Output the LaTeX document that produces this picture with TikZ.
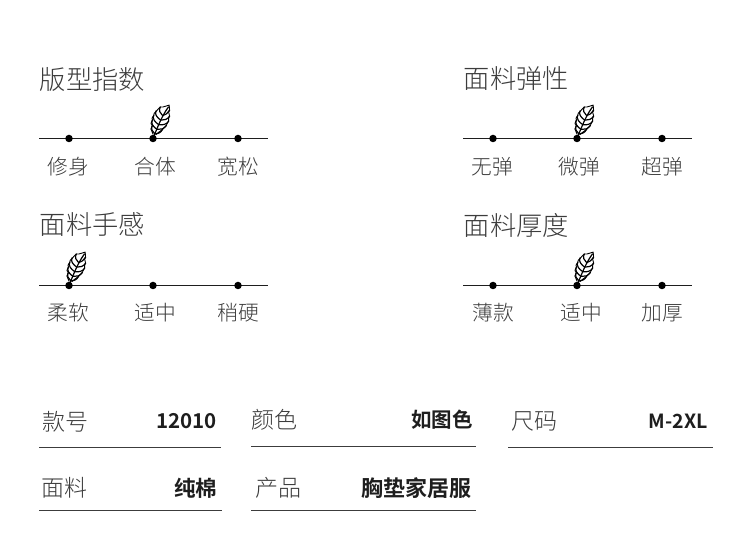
\documentclass[tikz,border=0pt]{standalone}
\usepackage{fontspec}
\setmainfont{Noto Sans CJK SC}[UprightFont={* Light},BoldFont={* Bold}]
\usetikzlibrary{positioning}
\definecolor{ink}{HTML}{1E1E1E}
\definecolor{soft}{HTML}{3C3C3C}
\tikzset{
  x=1pt,y=-1pt,
  titletext/.style={anchor=west,inner sep=0pt,text=soft,font=\fontsize{26.3}{26.3}\selectfont},
  scaletext/.style={anchor=center,inner sep=0pt,text=soft,font=\fontsize{20.7}{20.7}\selectfont},
  keytext/.style={anchor=west,inner sep=0pt,text=soft,font=\fontsize{23}{23}\selectfont},
  valtext/.style={anchor=east,inner sep=0pt,text=ink,font=\bfseries\fontsize{#1}{#1}\selectfont},
  scaleline/.style={draw=ink,line width=1.3pt},
  specline/.style={draw=soft,line width=1pt},
  dot/.style={circle,fill=black,inner sep=0pt,minimum size=7.5pt},
  pics/feather/.style={code={
    \fill[white] (-1,-4) -- (-8,-13) -- (-8.5,-24) -- (-5,-32) -- (2.5,-37) -- (7,-29) -- (7.5,-16) -- (1,-4) -- cycle;
    \draw[black,line width=1.2pt,line cap=round] (0,0) -- (0,-5) .. controls (0,-15) and (0,-25) .. (2.5,-35);
    \foreach \yy/\w in {5/6,10/8,15/8.5,20/8,25/5.5}{
      \draw[black,line width=1.2pt,line cap=round] (0,-\yy) .. controls (-\w*.5,-\yy-1) and (-\w,-\yy-3) .. (-\w+.5,-\yy-7);
    }
    \foreach \yy/\w in {5/5,10/7,15/7.5,20/6.5,25/4}{
      \draw[black,line width=1.2pt,line cap=round] (0.5,-\yy) .. controls (\w*.5,-\yy-1) and (\w,-\yy-3) .. (\w+.5,-\yy-7);
    }
    \draw[black,line width=.9pt,line join=round,line cap=round]
      (-1.5,-4) -- (-5.5,-8) -- (-5.5,-12) -- (-7.5,-13) -- (-7.5,-17) -- (-8.5,-18.5) -- (-8,-22) -- (-8.3,-24) -- (-7,-27) -- (-6.5,-28.5) -- (-5,-32) -- (-2.5,-33) -- (2.5,-37)
      -- (5,-32) -- (4.5,-30.5) -- (7,-27) -- (7,-24.5) -- (8,-22) -- (7.5,-19.5) -- (7.5,-17) -- (6,-14) -- (5.5,-12) -- (3,-8) -- (1.5,-5);
  }}
}
\begin{document}
\begin{tikzpicture}
\useasboundingbox (0,0) rectangle (750,537);
\fill[white] (0,0) rectangle (750,537);

% Scale 1
\node[titletext] (t1) at (39.5,79) {版型指数};
\coordinate (a1s) at (39,138.5); \coordinate (a1e) at (268,138.5);
\draw[scaleline] (a1s) -- (a1e);
\node[dot] (a1a) at (69,138.5) {}; \node[dot] (a1b) at (153,138.5) {}; \node[dot] (a1c) at (238,138.5) {};
\pic[rotate=-22] at (a1b) {feather};
\node[scaletext] (l1a) at (68,167) {修身};
\node[scaletext] (l1b) at (155,167) {合体};
\node[scaletext] (l1c) at (238,167) {宽松};

% Scale 2
\node[titletext] (t2) at (463.5,79) {面料弹性};
\coordinate (a2s) at (463,138.5); \coordinate (a2e) at (692,138.5);
\draw[scaleline] (a2s) -- (a2e);
\node[dot] (a2a) at (493,138.5) {}; \node[dot] (a2b) at (577,138.5) {}; \node[dot] (a2c) at (662,138.5) {};
\pic[rotate=-22] at (a2b) {feather};
\node[scaletext] (l2a) at (492.5,167) {无弹};
\node[scaletext] (l2b) at (579,167) {微弹};
\node[scaletext] (l2c) at (662.5,167) {超弹};

% Scale 3
\node[titletext] (t3) at (39.5,225) {面料手感};
\coordinate (a3s) at (39,285.5); \coordinate (a3e) at (268,285.5);
\draw[scaleline] (a3s) -- (a3e);
\node[dot] (a3a) at (69,285.5) {}; \node[dot] (a3b) at (153,285.5) {}; \node[dot] (a3c) at (238,285.5) {};
\pic[rotate=-22] at (a3a) {feather};
\node[scaletext] (l3a) at (68,313) {柔软};
\node[scaletext] (l3b) at (155,313) {适中};
\node[scaletext] (l3c) at (238,313) {稍硬};

% Scale 4
\node[titletext] (t4) at (463.5,225) {面料厚度};
\coordinate (a4s) at (463,285.5); \coordinate (a4e) at (692,285.5);
\draw[scaleline] (a4s) -- (a4e);
\node[dot] (a4a) at (493,285.5) {}; \node[dot] (a4b) at (577,285.5) {}; \node[dot] (a4c) at (662,285.5) {};
\pic[rotate=-22] at (a4b) {feather};
\node[scaletext] (l4a) at (493,313) {薄款};
\node[scaletext] (l4b) at (581,313) {适中};
\node[scaletext] (l4c) at (662,313) {加厚};

% Specs
\node[keytext] (k1) at (42,421.5) {款号};
\node[valtext=20.5] (v1) at (217,421.5) {12010};
\coordinate (s1s) at (39,447); \coordinate (s1e) at (221,447);
\draw[specline] (s1s) -- (s1e);

\node[keytext] (k2) at (251,420) {颜色};
\node[valtext=20.5] (v2) at (473,419.5) {如图色};
\coordinate (s2s) at (251,446); \coordinate (s2e) at (476,446);
\draw[specline] (s2s) -- (s2e);

\node[keytext] (k3) at (511,421.5) {尺码};
\node[valtext=19.5] (v3) at (708,421.5) {M-2XL};
\coordinate (s3s) at (508,447); \coordinate (s3e) at (713,447);
\draw[specline] (s3s) -- (s3e);

\node[keytext] (k4) at (41,488) {面料};
\node[valtext=21.5] (v4) at (217.5,488.5) {纯棉};
\coordinate (s4s) at (39,510); \coordinate (s4e) at (222,510);
\draw[specline] (s4s) -- (s4e);

\node[keytext] (k5) at (255,488) {产品};
\node[valtext=22] (v5) at (472,488.5) {胸垫家居服};
\coordinate (s5s) at (251,510); \coordinate (s5e) at (476,510);
\draw[specline] (s5s) -- (s5e);
\end{tikzpicture}
\end{document}
